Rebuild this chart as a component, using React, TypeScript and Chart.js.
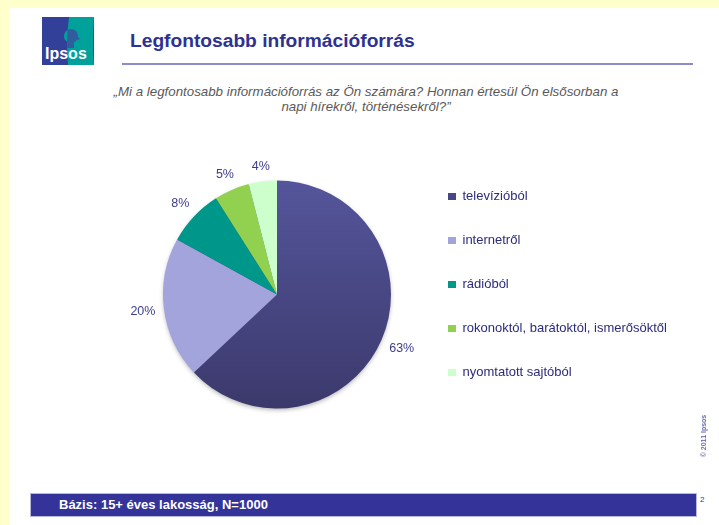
import React, { useEffect, useRef } from "react";
import { Chart, registerables } from "chart.js";

Chart.register(...registerables);

const categories = [
  "televízióból",
  "internetről",
  "rádióból",
  "rokonoktól, barátoktól, ismerősöktől",
  "nyomtatott sajtóból",
];
const values = [63, 20, 8, 5, 4];
const valueLabels = ["63%", "20%", "8%", "5%", "4%"];
const sliceColors = ["#474785", "#A4A4DC", "#00978B", "#92D050", "#CCFFCC"];
const tvGradient = ["#55559C", "#3B396B"];

const FONT = '"Liberation Sans", Arial, Helvetica, sans-serif';

export default function App() {
  const canvasRef = useRef<HTMLCanvasElement>(null);

  useEffect(() => {
    document.body.style.margin = "0";
    const canvas = canvasRef.current!;

    // legend geometry: measure longest label so the legend starts where wanted
    const mctx = document.createElement("canvas").getContext("2d")!;
    mctx.font = `13px ${FONT}`;
    const tw = Math.max(...categories.map((c) => mctx.measureText(c).width));
    const legendPadding = 5;
    const legendW = legendPadding + 8 + 6.5 + tw + 10;
    const canvasLeft = 90;
    const canvasWidth = 629;
    const legendLeft = 443;
    const padRight = Math.max(0, canvasLeft + canvasWidth - legendLeft - legendW);

    const shadowPlugin = {
      id: "pieShadow",
      beforeDatasetsDraw(chart: any) {
        const meta = chart.getDatasetMeta(0);
        const arc = meta.data[0];
        if (!arc) return;
        const { x, y, outerRadius } = arc.getProps(["x", "y", "outerRadius"], true);
        const c = chart.ctx;
        c.save();
        c.shadowColor = "rgba(0,0,0,0.35)";
        c.shadowBlur = 5;
        c.shadowOffsetY = 2;
        c.fillStyle = "#444477";
        c.beginPath();
        c.arc(x, y, outerRadius - 1, 0, Math.PI * 2);
        c.fill();
        c.restore();
      },
    };

    const pctPlugin = {
      id: "pctLabels",
      afterDatasetsDraw(chart: any) {
        const c = chart.ctx;
        const meta = chart.getDatasetMeta(0);
        c.save();
        c.font = `12.5px ${FONT}`;
        c.fillStyle = "#3D3D8F";
        c.textAlign = "center";
        c.textBaseline = "middle";
        meta.data.forEach((arc: any, i: number) => {
          const { x, y, startAngle, endAngle, outerRadius } = arc.getProps(
            ["x", "y", "startAngle", "endAngle", "outerRadius"],
            true
          );
          const mid = (startAngle + endAngle) / 2;
          const txt = valueLabels[i];
          const hw = c.measureText(txt).width / 2;
          const hh = 6;
          const cs = Math.cos(mid);
          const sn = Math.sin(mid);
          const d = outerRadius + 8 + hw * Math.abs(cs) + hh * Math.abs(sn);
          c.fillText(txt, x + cs * d, y + sn * d);
        });
        c.restore();
      },
    };

    const chart = new Chart(canvas, {
      type: "pie",
      data: {
        labels: categories,
        datasets: [
          {
            data: values,
            backgroundColor: (ctx: any) => {
              const i = ctx.dataIndex;
              if (i === 0) {
                const area = ctx.chart.chartArea;
                if (!area) return sliceColors[0];
                const g = ctx.chart.ctx.createLinearGradient(0, area.top, 0, area.bottom);
                g.addColorStop(0, tvGradient[0]);
                g.addColorStop(1, tvGradient[1]);
                return g;
              }
              return sliceColors[i];
            },
            borderWidth: 0,
            radius: 114,
          } as any,
        ],
      },
      options: {
        responsive: true,
        maintainAspectRatio: false,
        animation: false,
        events: [],
        layout: { padding: { left: 21, right: padRight, top: 39, bottom: 20 } },
        plugins: {
          tooltip: { enabled: false },
          legend: {
            position: "right",
            align: "end",
            labels: {
              boxWidth: 8,
              boxHeight: 7,
              padding: legendPadding,
              color: "#2B2B7B",
              font: { family: FONT, size: 13, lineHeight: 1.5 },
              generateLabels: (ch: any) => {
                const base = (Chart as any).overrides.doughnut.plugins.legend.labels.generateLabels(ch);
                return base.map((it: any, i: number) => ({
                  ...it,
                  text: [it.text, ""],
                  fillStyle: sliceColors[i],
                  strokeStyle: sliceColors[i],
                  lineWidth: 0,
                }));
              },
            },
          },
        },
      } as any,
      plugins: [shadowPlugin, pctPlugin],
    });

    return () => chart.destroy();
  }, []);

  return (
    <div
      style={{
        position: "fixed",
        left: 0,
        top: 0,
        width: 719,
        height: 525,
        background: "#FFFFCC",
        overflow: "hidden",
        fontFamily: FONT,
      }}
    >
      <div style={{ position: "absolute", left: 9, top: 8, right: 0, bottom: 0, background: "#ffffff" }} />

      {/* Logo */}
      <svg
        width={52}
        height={48}
        viewBox="0 0 52 48"
        style={{ position: "absolute", left: 42, top: 17 }}
      >
        <defs>
          <clipPath id="lft">
            <path d="M0,0 L27,0 Q24,24 26,48 L0,48 Z" />
          </clipPath>
          <clipPath id="rgt">
            <path d="M27,0 L52,0 L52,48 L26,48 Q24,24 27,0 Z" />
          </clipPath>
        </defs>
        <rect x={0} y={0} width={52} height={48} fill="#33409A" />
        <path d="M27,0 L52,0 Q50,24 52,48 L26,48 Q24,24 27,0 Z" fill="#00A19A" />
        <g clipPath="url(#lft)" fill="#00A19A">
          <circle cx={29} cy={19} r={7} />
          <rect x={25} y={23} width={7} height={8} />
        </g>
        <g clipPath="url(#rgt)" fill="#2F5D9E">
          <circle cx={29} cy={19} r={7} />
          <path d="M34,18 L38,22 L35,23 Z" />
          <rect x={25} y={23} width={7} height={8} />
        </g>
        <text x={3} y={42} fill="#ffffff" fontFamily={FONT} fontWeight="bold" fontSize={16}>
          Ipsos
        </text>
      </svg>

      {/* Title */}
      <div
        style={{
          position: "absolute",
          left: 130,
          top: 31,
          fontSize: 19.2,
          lineHeight: "19px",
          fontWeight: "bold",
          color: "#2E3192",
          whiteSpace: "nowrap",
        }}
      >
        Legfontosabb információforrás
      </div>
      <div style={{ position: "absolute", left: 122, top: 63, width: 571, height: 1.5, background: "#8C8CCB" }} />

      {/* Subtitle */}
      <div
        style={{
          position: "absolute",
          left: 60,
          top: 84,
          width: 612,
          textAlign: "center",
          fontSize: 13.3,
          lineHeight: "15px",
          fontStyle: "italic",
          color: "#595959",
        }}
      >
        „Mi a legfontosabb információforrás az Ön számára? Honnan értesül Ön elsősorban a
        <br />
        napi hírekről, történésekről?”
      </div>

      {/* Chart */}
      <div style={{ position: "absolute", left: 90, top: 140, width: 629, height: 290 }}>
        <canvas ref={canvasRef} />
      </div>

      {/* Copyright */}
      <div
        style={{
          position: "absolute",
          left: 674,
          top: 431,
          width: 60,
          height: 10,
          lineHeight: "10px",
          textAlign: "center",
          fontSize: 7,
          fontWeight: "bold",
          color: "#6B6BB5",
          transform: "rotate(-90deg)",
          whiteSpace: "nowrap",
        }}
      >
        © 2011 Ipsos
      </div>

      {/* Bottom bar */}
      <div
        style={{
          position: "absolute",
          left: 31,
          top: 494,
          width: 665,
          height: 22,
          background: "#333399",
          boxShadow: "0 0 0 1px #B8B8DD",
        }}
      />
      <div
        style={{
          position: "absolute",
          left: 59,
          top: 498,
          fontSize: 13,
          lineHeight: "14px",
          fontWeight: "bold",
          color: "#ffffff",
          whiteSpace: "nowrap",
        }}
      >
        Bázis: 15+ éves lakosság, N=1000
      </div>
      <div
        style={{
          position: "absolute",
          left: 700,
          top: 495,
          fontSize: 8,
          lineHeight: "10px",
          color: "#333399",
        }}
      >
        2
      </div>
    </div>
  );
}
